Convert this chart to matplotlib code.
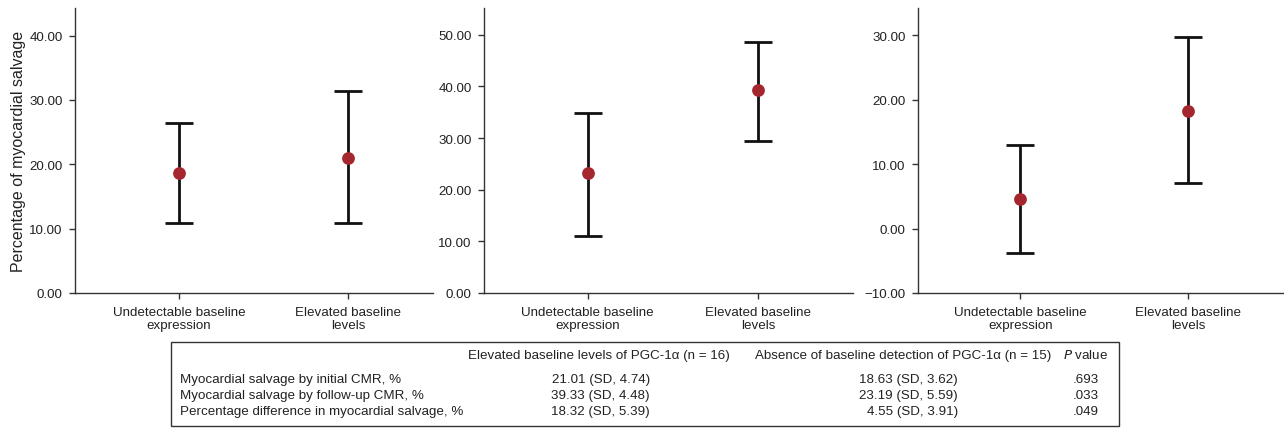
import matplotlib
matplotlib.use("Agg")
import matplotlib.pyplot as plt
from matplotlib.patches import Rectangle

plt.rcParams['font.family'] = ['Liberation Sans', 'DejaVu Sans']

# ---- data ----
categories = ["Undetectable baseline\nexpression", "Elevated baseline\nlevels"]
initial_mean = [18.63, 21.01]
initial_low = [10.84, 10.84]
initial_high = [26.40, 31.37]
followup_mean = [23.19, 39.33]
followup_low = [11.03, 29.50]
followup_high = [34.95, 48.60]
diff_mean = [4.55, 18.32]
diff_low = [-3.83, 7.06]
diff_high = [13.00, 29.77]

ticks_initial = [0, 10, 20, 30, 40]
ticks_followup = [0, 10, 20, 30, 40, 50]
ticks_diff = [-10, 0, 10, 20, 30]

table_rows = ["Myocardial salvage by initial CMR, %",
              "Myocardial salvage by follow-up CMR, %",
              "Percentage difference in myocardial salvage, %"]
table_col1 = ["21.01 (SD, 4.74)", "39.33 (SD, 4.48)", "18.32 (SD, 5.39)"]
table_col2 = ["18.63 (SD, 3.62)", "23.19 (SD, 5.59)", "4.55 (SD, 3.91)"]
table_p = [".693", ".033", ".049"]
header1 = "Elevated baseline levels of PGC-1\u03b1 (n = 16)"
header2 = "Absence of baseline detection of PGC-1\u03b1 (n = 15)"

# ---- figure ----
W, H = 1284, 431
fig = plt.figure(figsize=(W / 100, H / 100), dpi=100)

def px_rect(x0, x1, ytop, ybot):
    return [x0 / W, 1 - ybot / H, (x1 - x0) / W, (ybot - ytop) / H]

panels = [
    (px_rect(75, 433, 9, 294), initial_mean, initial_low, initial_high,
     ticks_initial, (0, 44.3), (-0.614, 1.50)),
    (px_rect(484.3, 853, 9, 294), followup_mean, followup_low, followup_high,
     ticks_followup, (0, 55.2), (-0.606, 1.555)),
    (px_rect(918.3, 1283, 9, 294), diff_mean, diff_low, diff_high,
     ticks_diff, (-10, 34.26), (-0.607, 1.565)),
]

txt_color = '#222222'
spine_color = '#333333'
marker_color = '#a4262e'

axes = []
for rect, mean, low, high, ticks, ylim, xlim in panels:
    ax = fig.add_axes(rect)
    x = list(range(len(categories)))
    yerr = [[m - l for m, l in zip(mean, low)], [h - m for m, h in zip(mean, high)]]
    ax.errorbar(x, mean, yerr=yerr, fmt='none', ecolor='#111111',
                elinewidth=2.0, capsize=10, capthick=2.0, zorder=2)
    ax.plot(x, mean, 'o', color=marker_color, markersize=9.2, zorder=3,
            markeredgewidth=0)
    ax.set_xlim(*xlim)
    ax.set_ylim(*ylim)
    ax.set_yticks(ticks)
    ax.set_yticklabels(["%.2f" % t if t >= 0 else "\u2212%.2f" % (-t) for t in ticks])
    ax.set_xticks(x)
    ax.set_xticklabels(categories)
    for s in ['top', 'right']:
        ax.spines[s].set_visible(False)
    for s in ['left', 'bottom']:
        ax.spines[s].set_color(spine_color)
        ax.spines[s].set_linewidth(1.0)
    ax.tick_params(axis='y', direction='out', length=4, width=1, color=spine_color,
                   labelsize=9.6, labelcolor=txt_color, pad=5)
    ax.tick_params(axis='x', direction='out', length=4, width=1, color=spine_color,
                   labelsize=9.6, labelcolor=txt_color, pad=5)
    ax.patch.set_visible(False)
    axes.append(ax)

axes[0].set_ylabel("Percentage of myocardial salvage", fontsize=11.5, color=txt_color)
axes[0].yaxis.set_label_coords(-0.138, 0.5)

# ---- table ----
def fx(px):
    return px / W

def fy(py):
    return 1 - py / H

fig.patches.append(Rectangle((fx(171), fy(426.5)), fx(1119) - fx(171), fy(343) - fy(426.5),
                             transform=fig.transFigure, fill=False,
                             edgecolor='#333333', linewidth=1.0))

fs = 9.6
fig.text(fx(599), fy(355.5), header1, ha='center', va='center', fontsize=fs, color=txt_color)
fig.text(fx(903), fy(355.5), header2, ha='center', va='center', fontsize=fs, color=txt_color)
fig.text(fx(1086), fy(355.5), r"$\it{P}$ value", ha='center', va='center', fontsize=fs,
         color=txt_color)

row_y = [380, 396, 412]
for yy, lab, c1, c2, p in zip(row_y, table_rows, table_col1, table_col2, table_p):
    fig.text(fx(180), fy(yy), lab, ha='left', va='center', fontsize=fs, color=txt_color)
    fig.text(fx(650), fy(yy), c1, ha='right', va='center', fontsize=fs, color=txt_color)
    fig.text(fx(958), fy(yy), c2, ha='right', va='center', fontsize=fs, color=txt_color)
    fig.text(fx(1099), fy(yy), p, ha='right', va='center', fontsize=fs, color=txt_color)

fig.savefig("out.png", dpi=100)
